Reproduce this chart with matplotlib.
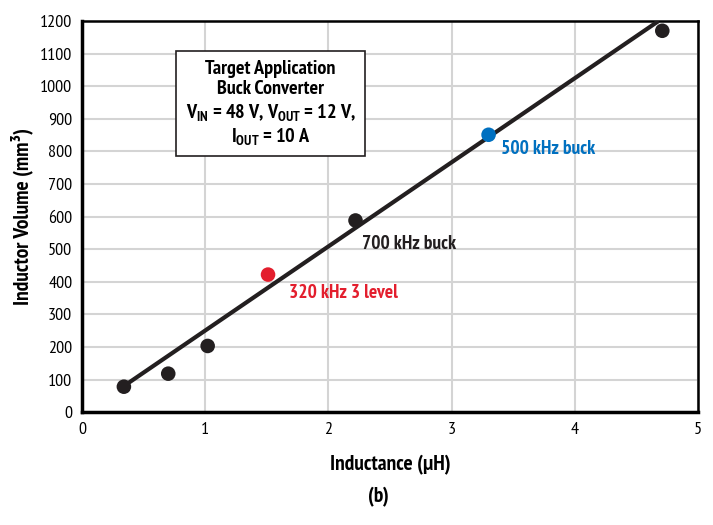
import matplotlib
matplotlib.use("Agg")
import matplotlib.pyplot as plt
from matplotlib import font_manager

names = {f.name for f in font_manager.fontManager.ttflist}
FONT = "DejaVu Sans"
for cand in ["Myriad Pro", "PT Sans Narrow", "Roboto Condensed", "Fira Sans Condensed",
             "Archivo Narrow", "Liberation Sans Narrow", "Open Sans Condensed"]:
    if cand in names:
        FONT = cand
        break
plt.rcParams['font.family'] = [FONT, 'DejaVu Sans']
plt.rcParams['mathtext.fontset'] = 'custom'
plt.rcParams['mathtext.rm'] = f'{FONT}:bold'
plt.rcParams['mathtext.it'] = f'{FONT}:bold'
plt.rcParams['mathtext.bf'] = f'{FONT}:bold'

# data
inductance = [0.34, 0.70, 1.02, 1.51, 2.22, 3.30, 4.71]
volume = [78, 118, 203, 422, 588, 851, 1170]
point_colors = ['#231f20', '#231f20', '#231f20', '#e31e2d', '#231f20', '#0070c0', '#231f20']
fit_x = [0.34, 4.68]
fit_y = [80, 1200]
labels = ['320 kHz 3 level', '700 kHz buck', '500 kHz buck']
label_idx = [3, 4, 5]
x_ticks = [0, 1, 2, 3, 4, 5]
y_ticks = list(range(0, 1300, 100))

fig = plt.figure(figsize=(7.13, 5.25), dpi=100)
ax = fig.add_axes([0.115, 0.215, 0.864, 0.745])

ax.plot(fit_x, fit_y, color='#231f20', lw=3, solid_capstyle='butt', zorder=3)
ax.scatter(inductance, volume, s=110, c=point_colors, zorder=4, linewidths=0)

offsets = [(15, -13), (5, -17), (9, -10)]
for lab, i, off in zip(labels, label_idx, offsets):
    ax.annotate(lab, (inductance[i], volume[i]), xytext=off, textcoords='offset points',
                color=point_colors[i], fontsize=14, fontweight='bold', va='center', ha='left')

ax.set_xlim(0, 5)
ax.set_ylim(0, 1200)
ax.set_xticks(x_ticks)
ax.set_yticks(y_ticks)
ax.tick_params(length=0, labelsize=13, pad=7)
ax.grid(True, color='#d4d4d4', lw=1.5)
ax.set_axisbelow(True)
for s in ['left', 'bottom']:
    ax.spines[s].set_linewidth(2.5)
for s in ['top', 'right']:
    ax.spines[s].set_linewidth(1.8)

ax.set_xlabel('Inductance (µH)', fontsize=15.5, fontweight='bold', labelpad=12)
ax.set_ylabel('Inductor Volume (mm³)', fontsize=15.5, fontweight='bold', labelpad=5)

box_text = ("Target Application\nBuck Converter\n"
            r"V$_{\mathrm{IN}}$ = 48 V, V$_{\mathrm{OUT}}$ = 12 V," "\n"
            r"I$_{\mathrm{OUT}}$ = 10 A")
ax.text(1.53, 948, box_text, ha='center', va='center', fontsize=14.5, fontweight='bold',
        linespacing=1.2, zorder=5,
        bbox=dict(boxstyle='square,pad=0.45', fc='white', ec='#231f20', lw=1.2))

fig.text(0.53, 0.053, '(b)', ha='center', va='center', fontsize=15.5, fontweight='bold')

fig.savefig('out.png', dpi=100)
